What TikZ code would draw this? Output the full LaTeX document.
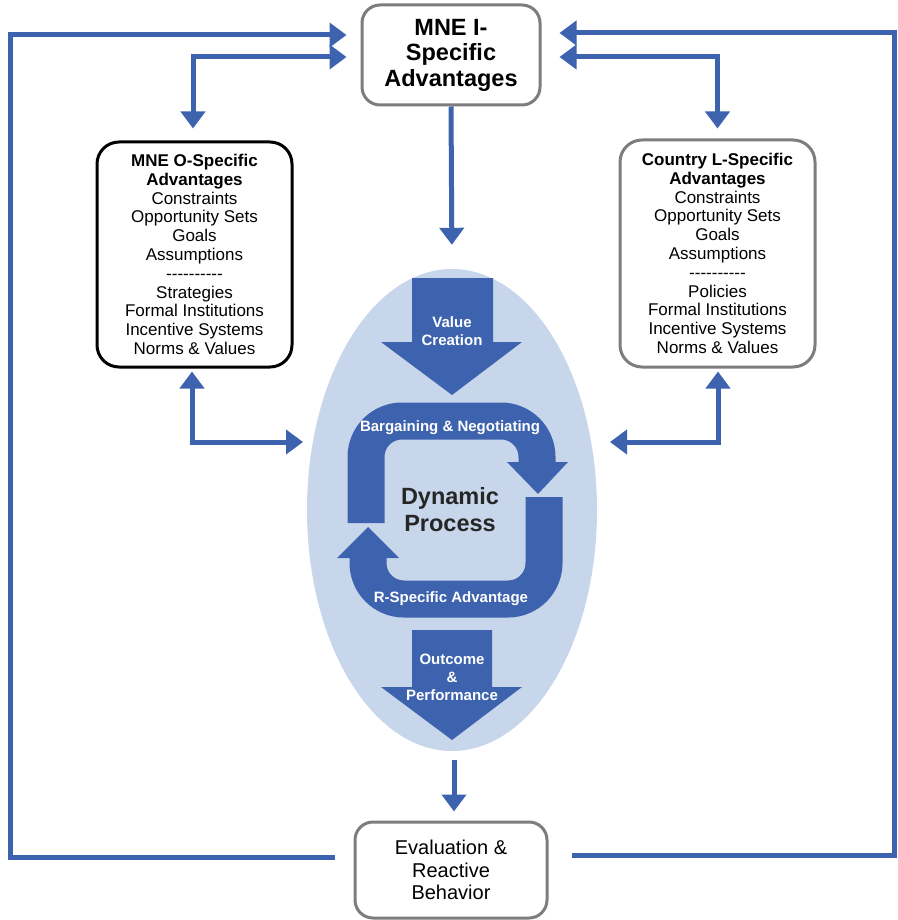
\documentclass[tikz,border=0pt]{standalone}
\usepackage{fontspec}
\setmainfont{Liberation Sans}
\usetikzlibrary{arrows.meta,shapes.geometric,calc}
\definecolor{blk}{RGB}{62,99,174}
\definecolor{ellfill}{RGB}{200,214,236}
\definecolor{boxgray}{RGB}{125,125,125}
\newcommand{\dashrow}{-{}-{}-{}-{}-{}-{}-{}-{}-{}-{}}
\begin{document}
\begin{tikzpicture}[x=1pt,y=-1pt,
  sidebox/.style={rounded corners=18pt, line width=3pt, fill=white, align=center, inner sep=0pt},
  conn/.style={draw=blk, line width=5pt, >={Triangle[length=17pt,width=24pt]}},
  band/.style={draw=blk, line width=37pt, rounded corners=36pt},
  wlabel/.style={text=white, font=\fontsize{15}{18}\bfseries, align=center}]
\useasboundingbox (0,0) rectangle (897,920);

% ellipse
\node[ellipse, fill=ellfill, minimum width=290pt, minimum height=482pt, inner sep=0pt] (ell) at (452,510) {};

% boxes
\node[sidebox, draw=boxgray, minimum width=178pt, minimum height=100pt, font=\fontsize{23.5}{25.5}\bfseries] (top) at (451,55) {MNE I-\\Specific\\Advantages};
\node[sidebox, draw=black, minimum width=195pt, minimum height=225pt, rounded corners=22pt, font=\fontsize{17}{18.8}\selectfont] (lbox) at (194.5,254.5) {\textbf{MNE O-Specific}\\\textbf{Advantages}\\Constraints\\Opportunity Sets\\Goals\\Assumptions\\\dashrow\\Strategies\\Formal Institutions\\Incentive Systems\\Norms \& Values};
\node[sidebox, draw=boxgray, minimum width=195pt, minimum height=227pt, rounded corners=22pt, font=\fontsize{17}{18.8}\selectfont] (rbox) at (717.5,253.5) {\textbf{Country L-Specific}\\\textbf{Advantages}\\Constraints\\Opportunity Sets\\Goals\\Assumptions\\\dashrow\\Policies\\Formal Institutions\\Incentive Systems\\Norms \& Values};
\node[sidebox, draw=boxgray, minimum width=192pt, minimum height=96pt, font=\fontsize{20}{22.5}\selectfont] (bot) at (451,870) {Evaluation \&\\Reactive\\Behavior};

% block arrows
\fill[blk] (412,278) -- (493,278) -- (493,342) -- (522,342) -- (452,395) -- (381,342) -- (412,342) -- cycle;
\node[wlabel] (vc) at (452,331) {Value\\Creation};
\fill[blk] (412,630) -- (492,630) -- (492,687) -- (522,687) -- (452,740) -- (381,687) -- (412,687) -- cycle;
\node[wlabel] (op) at (452,677) {Outcome\\\&\\Performance};

% cycle arrows
\draw[band] (366,523) -- (366,421) -- (537,421) -- (537,464);
\fill[blk] (507,462) -- (568,462) -- (538,494) -- cycle;
\draw[band] (544,497) -- (544,599) -- (368,599) -- (368,556);
\fill[blk] (337,558) -- (399,558) -- (368,527) -- cycle;
\node[wlabel] (bn) at (450,428) {Bargaining \& Negotiating};
\node[wlabel] (rs) at (451,599) {R-Specific Advantage};
\node[font=\fontsize{23.5}{27}\bfseries, align=center, text=black!85] (dp) at (450,510) {Dynamic\\Process};

% connectors
\coordinate (bl) at (335,857);
\coordinate (LL) at (10,857);
\coordinate (LU) at (10,35);
\draw[conn,->,shorten >=14pt] (bl) -- (LL) -- (LU) -- ($(top.west)+(0,-20)$);
\draw[conn,<->,shorten <=12pt,shorten >=14pt] ($(lbox.north)+(-1.5,0)$) |- ($(top.west)+(0,2)$);

\coordinate (br) at (572,855);
\coordinate (RL) at (894,855);
\coordinate (RU) at (894,33);
\draw[conn,->,shorten >=18pt] (br) -- (RL) -- (RU) -- ($(top.east)+(0,-22)$);
\draw[conn,<->,shorten <=10pt,shorten >=18pt] (rbox.north) |- ($(top.east)+(0,2)$);

\coordinate (ml) at (303,442);
\coordinate (mr) at (610,442);
\draw[conn,<->,shorten <=3pt] ($(lbox.south)+(-2.5,0)$) |- (ml);
\draw[conn,<->,shorten <=3pt] ($(rbox.south)+(0.5,0)$) |- (mr);

\draw[conn,->,shorten >=24pt] (top.south) -- (ell.north);
\draw[conn,->,shorten <=9pt,shorten >=9pt] ($(ell.south)+(2,0)$) -- ($(bot.north)+(3,0)$);
\end{tikzpicture}
\end{document}
